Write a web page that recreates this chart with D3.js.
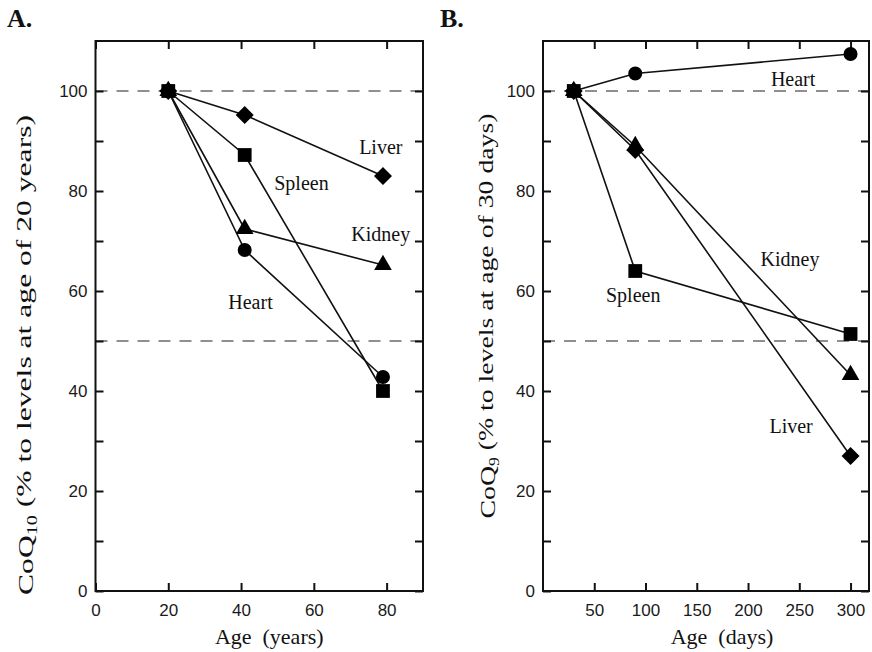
<!DOCTYPE html>
<html>
<head>
<meta charset="utf-8">
<script src="https://cdn.jsdelivr.net/npm/d3@7"></script>
<style>
  html, body { margin: 0; padding: 0; background: #fff; }
  svg { display: block; }
  .tick text { font-family: "Liberation Sans", Arial, Helvetica, sans-serif; font-size: 17px; fill: #1a1a1a; }
  .tick line { stroke: #111; stroke-width: 2; }
  .serif { font-family: "Liberation Serif", "Times New Roman", Times, serif; fill: #111; }
</style>
</head>
<body>
<svg id="chart" width="872" height="652"></svg>
<script>
// Panel A: human tissues, CoQ10 relative to age 20 years
const agesA = [20, 41, 79];
const liverA = [100, 95.2, 83.0];
const spleenA = [100, 87.2, 40.0];
const kidneyA = [100, 72.4, 65.2];
const heartA = [100, 68.2, 42.8];

// Panel B: rat tissues, CoQ9 relative to age 30 days
const agesB = [30, 90, 300];
const heartB = [100, 103.5, 107.4];
const kidneyB = [100, 89.0, 43.2];
const liverB = [100, 88.2, 27.0];
const spleenB = [100, 64.0, 51.4];

// Tick values
const yTicks = [0, 10, 20, 30, 40, 50, 60, 70, 80, 90, 100];
const xTicksA = [0, 20, 40, 60, 80];
const xTicksB = [50, 100, 150, 200, 250, 300];
const refLines = [100, 50];

// Tissue label anchors, in data units
const labelsA = [
  { text: "Liver", x: 78.4, y: 88.8 },
  { text: "Spleen", x: 56.6, y: 81.6 },
  { text: "Kidney", x: 78.4, y: 71.4 },
  { text: "Heart", x: 42.6, y: 57.8 }
];
const labelsB = [
  { text: "Heart", x: 244, y: 102.4 },
  { text: "Kidney", x: 241, y: 66.4 },
  { text: "Spleen", x: 88, y: 59.2 },
  { text: "Liver", x: 242, y: 33.0 }
];

// Marker shapes
const diamond = {
  draw(ctx, size) {
    const r = Math.sqrt(size / 2);
    ctx.moveTo(0, -r); ctx.lineTo(r, 0); ctx.lineTo(0, r); ctx.lineTo(-r, 0); ctx.closePath();
  }
};
const shapes = {
  heart: d3.symbol(d3.symbolCircle, 154)(),
  spleen: d3.symbol(d3.symbolSquare, 190)(),
  liver: d3.symbol(diamond, 162)(),
  kidney: d3.symbol(d3.symbolTriangle, 135)()
};

const svg = d3.select("#chart");

function panel(cfg) {
  const x = d3.scaleLinear().domain(cfg.xDomain).range(cfg.xRange);
  const y = d3.scaleLinear().domain([0, 110]).range([591, 41]);
  const g = svg.append("g");

  // Dashed reference lines
  g.selectAll("line.ref").data(refLines).join("line")
    .attr("x1", cfg.xRange[0]).attr("x2", cfg.xRange[1])
    .attr("y1", d => y(d)).attr("y2", d => y(d))
    .attr("stroke", "#8f8f8f").attr("stroke-width", 2)
    .attr("stroke-dasharray", "12 9");

  // Axes with inward ticks on all four sides
  const fmt = d => (d % 20 === 0 ? d : "");
  g.append("g").attr("transform", `translate(${cfg.xRange[0]},0)`)
    .call(d3.axisLeft(y).tickValues(yTicks).tickSize(-8).tickPadding(8).tickFormat(fmt))
    .call(a => a.select(".domain").remove());
  g.append("g").attr("transform", `translate(${cfg.xRange[1]},0)`)
    .call(d3.axisRight(y).tickValues(yTicks).tickSize(-8).tickFormat(""))
    .call(a => a.select(".domain").remove());
  g.append("g").attr("transform", "translate(0,591)")
    .call(d3.axisBottom(x).tickValues(cfg.xTicks).tickSize(-8).tickPadding(13))
    .call(a => a.select(".domain").remove());
  g.append("g").attr("transform", "translate(0,41)")
    .call(d3.axisTop(x).tickValues(cfg.xTicks).tickSize(-8).tickFormat(""))
    .call(a => a.select(".domain").remove());

  // Frame
  g.append("rect")
    .attr("x", cfg.xRange[0]).attr("y", 41)
    .attr("width", cfg.xRange[1] - cfg.xRange[0]).attr("height", 550)
    .attr("fill", "none").attr("stroke", "#111").attr("stroke-width", 2);

  // Series lines then markers
  const line = d3.line().x(d => x(d[0])).y(d => y(d[1]));
  cfg.series.forEach(s => {
    const pts = cfg.ages.map((a, i) => [a, s.values[i]]);
    g.append("path").datum(pts).attr("d", line)
      .attr("fill", "none").attr("stroke", "#111").attr("stroke-width", 1.6);
  });
  cfg.series.forEach(s => {
    const pts = cfg.ages.map((a, i) => [a, s.values[i]]);
    g.selectAll(null).data(pts).join("path")
      .attr("d", shapes[s.shape])
      .attr("transform", d => `translate(${x(d[0])},${y(d[1])})`)
      .attr("fill", "#000");
  });

  // Tissue labels
  g.selectAll("text.lab").data(cfg.labels).join("text")
    .attr("class", "serif")
    .attr("x", d => x(d.x)).attr("y", d => y(d.y))
    .attr("text-anchor", "middle").attr("dy", "0.35em")
    .style("font-size", "20px")
    .text(d => d.text);

  // X axis title
  g.append("text").attr("class", "serif")
    .attr("x", (cfg.xRange[0] + cfg.xRange[1]) / 2 + cfg.titleShift).attr("y", 644)
    .attr("text-anchor", "middle").style("font-size", "22px")
    .style("white-space", "pre")
    .text(cfg.xTitle);

  // Y axis title with subscript
  const yt = g.append("text").attr("class", "serif")
    .attr("transform", `translate(${cfg.yTitleX},${cfg.yTitleY}) rotate(-90)`)
    .attr("text-anchor", "middle")
    .attr("textLength", cfg.yTitleLen).attr("lengthAdjust", "spacingAndGlyphs")
    .style("font-size", "22px");
  yt.append("tspan").text("CoQ");
  yt.append("tspan").attr("dy", "0.25em").style("font-size", "14px").text(cfg.sub);
  yt.append("tspan").attr("dy", "-0.25em").text(cfg.yRest);

  // Panel letter
  svg.append("text").attr("class", "serif")
    .attr("x", cfg.letterX).attr("y", 27)
    .style("font-size", "26px").style("font-weight", "bold")
    .text(cfg.letter);
}

panel({
  xDomain: [0, 90], xRange: [95.5, 423], xTicks: xTicksA, ages: agesA,
  series: [
    { values: heartA, shape: "heart" },
    { values: kidneyA, shape: "kidney" },
    { values: liverA, shape: "liver" },
    { values: spleenA, shape: "spleen" }
  ],
  labels: labelsA, xTitle: "Age  (years)", titleShift: 10,
  yTitleX: 33, yTitleY: 355, yTitleLen: 480, sub: "10",
  yRest: " (% to levels at age of 20 years)",
  letter: "A.", letterX: 7
});

panel({
  xDomain: [0, 318], xRange: [543, 869], xTicks: xTicksB, ages: agesB,
  series: [
    { values: heartB, shape: "heart" },
    { values: kidneyB, shape: "kidney" },
    { values: liverB, shape: "liver" },
    { values: spleenB, shape: "spleen" }
  ],
  labels: labelsB, xTitle: "Age  (days)", titleShift: 16,
  yTitleX: 495, yTitleY: 316, yTitleLen: 405, sub: "9",
  yRest: " (% to levels at age of 30 days)",
  letter: "B.", letterX: 440
});
</script>
</body>
</html>
